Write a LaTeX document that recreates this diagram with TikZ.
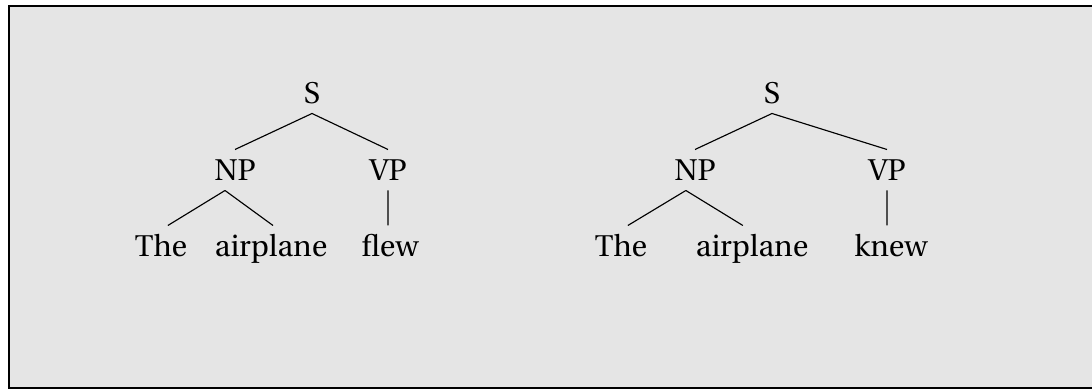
\documentclass[tikz,border=0pt]{standalone}
\usepackage[T1]{fontenc}
\usepackage{utopia}
\definecolor{panelgray}{HTML}{E5E5E5}
\tikzset{cat/.style={inner sep=3.3pt, text height=7.35pt, text depth=0pt,
    font=\fontsize{10.5}{12}\selectfont}}

\begin{document}
\begin{tikzpicture}[x=0.35pt, y=-0.35pt, every node/.style={cat}]
        \clip (0,0) rectangle (1092,390);
        \draw[line width=0.7pt, fill=panelgray] (8.5,6.5) rectangle (1110,388.5);

        % the airplane flew
        \node (s1) at (312,93) {S};
        \node (np1) at (235,170) {NP};
        \node (vp1) at (388,170) {VP};
        \node (det1) at (161,246) {The};
        \node (n1) at (271,246) {airplane};
        \node (v1) at (390,246) {flew};

        \draw (s1.south) -- (np1.north)
                (s1.south) -- (vp1.north)
                ([xshift=-3.5pt]np1.south) -- ([xshift=2.4pt]det1.north)
                ([xshift=-3.5pt]np1.south) -- ([xshift=0.7pt]n1.north)
                (vp1.south) -- (vp1.south |- v1.north);

        % the airplane knew
        \node (s2) at (772,93) {S};
        \node (np2) at (695,170) {NP};
        \node (vp2) at (887,170) {VP};
        \node (det2) at (621,246) {The};
        \node (n2) at (752,246) {airplane};
        \node (v2) at (891,246) {knew};

        \draw (s2.south) -- (np2.north)
                (s2.south) -- (vp2.north)
                ([xshift=-3.2pt]np2.south) -- ([xshift=2.4pt]det2.north)
                ([xshift=-3.2pt]np2.south) -- ([xshift=-3.2pt]n2.north)
                (vp2.south) -- (vp2.south |- v2.north);
\end{tikzpicture}
\end{document}
